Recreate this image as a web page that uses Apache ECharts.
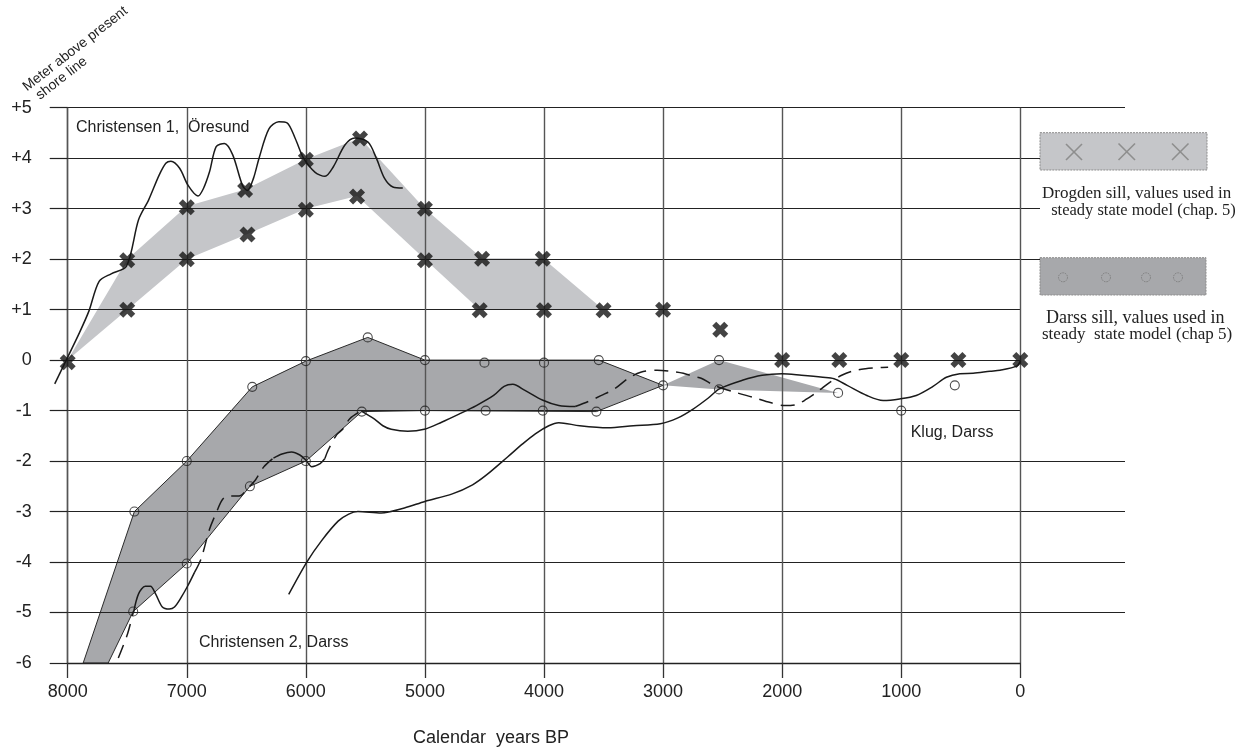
<!DOCTYPE html>
<html>
<head>
<meta charset="utf-8">
<script src="https://cdn.jsdelivr.net/npm/echarts@6/dist/echarts.min.js"></script>
<style>
  html, body { margin: 0; padding: 0; background: #fff; }
  #chart { width: 1256px; height: 751px; }
</style>
</head>
<body>
<div id="chart"></div>
<script>
// Axis ranges (calendar years BP on x, metres relative to present shore line on y)
const yearRange = [0, 8000];
const levelRange = [-6, 5];

// Drogden sill: envelope of values used in the steady state model
const drogdenUpper = [[8000, 0], [7500, 2], [7000, 3.05], [6510, 3.38], [6000, 3.98], [5545, 4.4], [5000, 3], [4520, 2.02], [4010, 2.02], [3500, 1]];
const drogdenLower = [[3500, 1], [4000, 1], [4540, 1], [5000, 2], [5570, 3.25], [6000, 3], [6490, 2.5], [7000, 2], [7500, 1], [8000, 0]];
const drogdenMarks = [[8000, -0.04], [7500, 1.98], [7500, 1], [7000, 3.03], [7000, 2], [6510, 3.37], [6490, 2.49], [6000, 3.97], [6000, 2.98], [5545, 4.39], [5570, 3.24], [5000, 3], [5000, 1.98], [4520, 2.01], [4540, 0.99], [4010, 2.01], [4000, 0.99], [3500, 0.99], [3000, 1], [2520, 0.6], [2000, 0], [1520, 0], [1000, 0], [520, 0], [0, 0]];

// Darss sill: envelope of values used in the steady state model
const darssUpper = [[7870, -6], [7440, -3], [7000, -2], [6450, -0.53], [6000, -0.02], [5480, 0.45], [5000, 0], [3540, 0], [3000, -0.5]];
const darssLower = [[3000, -0.5], [3560, -1.02], [5000, -1], [5530, -1.02], [6000, -2], [6470, -2.5], [7000, -4.03], [7450, -4.98], [7660, -6]];
const darssTail = [[3000, -0.5], [2530, 0], [1530, -0.65], [2530, -0.58]];
const darssMarks = [[7440, -3], [7000, -2], [6450, -0.53], [6000, -0.02], [5480, 0.45], [5000, 0], [4500, -0.05], [4000, -0.05], [3540, 0], [3000, -0.5], [2530, 0],
  [7450, -4.98], [7000, -4.03], [6470, -2.5], [6000, -2], [5530, -1.02], [5000, -1], [4490, -1], [4010, -1], [3560, -1.02], [2530, -0.58], [1530, -0.65], [1000, -1], [550, -0.5]];

// Christensen 1, Öresund (the first stretch starts just before 8000 BP)
const oresundStart = [[8109, -0.47], [8000, 0.06]];
const oresund = [[8000, 0.06], [7900, 0.55], [7822, 0.97], [7736, 1.56], [7635, 1.71], [7506, 1.86], [7405, 2.78], [7319, 3.18], [7233, 3.66], [7176, 3.9], [7133, 3.94], [7060, 3.8], [6989, 3.46], [6906, 3.25], [6860, 3.4], [6809, 3.73], [6753, 4.23], [6684, 4.29], [6615, 4.07], [6532, 3.46], [6490, 3.36], [6440, 3.6], [6393, 4.0], [6310, 4.58], [6227, 4.72], [6158, 4.7], [6089, 4.39], [6019, 4.0], [5922, 3.72], [5839, 3.64], [5769, 3.83], [5672, 4.26], [5589, 4.4], [5478, 4.32], [5408, 4.0], [5339, 3.6], [5269, 3.43], [5186, 3.41]];

// Christensen 2, Darss (alternating dashed and solid stretches)
const darss2DashA = [[7575, -5.9], [7497, -5.42], [7448, -4.98]];
const darss2SolidB = [[7448, -5.01], [7405, -4.63], [7348, -4.48], [7305, -4.48], [7262, -4.63], [7205, -4.89], [7147, -4.93], [7103, -4.89], [7047, -4.7], [6989, -4.46], [6934, -4.2]];
const darss2DashC = [[6934, -4.2], [6879, -3.93], [6809, -3.35], [6741, -2.96], [6700, -2.76], [6645, -2.69], [6561, -2.69], [6480, -2.52], [6425, -2.38], [6355, -2.12], [6272, -1.94]];
const darss2SolidD = [[6272, -1.94], [6200, -1.86], [6120, -1.82], [6050, -1.88], [6000, -1.98], [5950, -2.11], [5880, -2.05], [5840, -1.95]];
const darss2DashE = [[5840, -1.95], [5812, -1.78], [5742, -1.48], [5687, -1.36], [5631, -1.16], [5533, -1.0]];
const darss2SolidF = [[5533, -1.01], [5423, -1.17], [5353, -1.3], [5283, -1.37], [5144, -1.41], [5006, -1.37], [4860, -1.23], [4714, -1.07], [4568, -0.9], [4423, -0.7], [4335, -0.52], [4262, -0.48], [4160, -0.6], [4014, -0.79], [3876, -0.9], [3738, -0.92]];
const darss2DashG = [[3738, -0.92], [3628, -0.82], [3518, -0.7], [3408, -0.57], [3298, -0.37], [3188, -0.24], [3051, -0.2], [2940, -0.22], [2830, -0.26], [2748, -0.32], [2680, -0.36], [2570, -0.5], [2390, -0.64], [2240, -0.74], [2100, -0.84], [1980, -0.9], [1880, -0.88], [1800, -0.78], [1700, -0.62], [1600, -0.44], [1500, -0.3], [1400, -0.21], [1300, -0.17], [1200, -0.15], [1110, -0.14]];

// Klug, Darss
const klug = [[6144, -4.64], [5992, -4.0], [5869, -3.58], [5729, -3.19], [5640, -3.05], [5563, -3.0], [5367, -3.03], [5172, -2.93], [5000, -2.8], [4770, -2.65], [4600, -2.47], [4480, -2.27], [4306, -1.92], [4180, -1.66], [4073, -1.46], [3960, -1.3], [3876, -1.24], [3700, -1.3], [3464, -1.34], [3250, -1.3], [3023, -1.26], [2880, -1.15], [2748, -0.97], [2620, -0.75], [2527, -0.57], [2334, -0.4], [2168, -0.3], [2002, -0.27], [1838, -0.3], [1659, -0.34], [1564, -0.37], [1454, -0.5], [1289, -0.7], [1152, -0.8], [1014, -0.77], [874, -0.7], [733, -0.52], [621, -0.34], [508, -0.27], [396, -0.26], [255, -0.22], [171, -0.2], [30, -0.12], [0, -0.02]];

// Horizontal rules that run on past the 0 year line
const ruleLevelsLong = [-5, -4, -3, -2, 5];
const ruleLevelsMid = [2, 3, 4];

const SANS = '"Liberation Sans", Arial, sans-serif';
const SERIF = '"Liberation Serif", "Times New Roman", serif';
const INK = '#1a1a1a';
const CROSS = 'path://M4,0 L8,4 L12,0 L16,4 L12,8 L16,12 L12,16 L8,12 L4,16 L0,12 L4,8 L0,4 Z';

function ruleColors(levels) {
  const out = [];
  for (let v = levelRange[0]; v <= levelRange[1]; v++) {
    out.push(levels.indexOf(v) >= 0 ? '#222' : 'rgba(0,0,0,0)');
  }
  return out;
}

function polygonSeries(points, fill, stroke) {
  return {
    type: 'custom', coordinateSystem: 'cartesian2d', xAxisIndex: 0, yAxisIndex: 0,
    z: 0, silent: true, clip: false, data: [[0, 0]],
    renderItem: function (params, api) {
      return {
        type: 'polygon',
        shape: { points: points.map(function (p) { return api.coord(p); }) },
        style: { fill: fill, stroke: stroke || null, lineWidth: stroke ? 1 : 0 }
      };
    }
  };
}

// a stretch of curve that begins outside the axis range
function outerStretch(points) {
  return {
    type: 'custom', coordinateSystem: 'cartesian2d', xAxisIndex: 0, yAxisIndex: 0,
    z: 3, silent: true, clip: false, data: [[0, 0]],
    renderItem: function (params, api) {
      return {
        type: 'polyline',
        shape: { points: points.map(function (p) { return api.coord(p); }) },
        style: { fill: null, stroke: INK, lineWidth: 1.5 }
      };
    }
  };
}

function curve(data, dashed) {
  return {
    type: 'line', data: data, xAxisIndex: 0, yAxisIndex: 0,
    smooth: 0.3, symbol: 'none', showSymbol: false, clip: false, z: 3, silent: true,
    lineStyle: { color: INK, width: 1.5, type: dashed ? [14, 8] : 'solid' }
  };
}

function hiddenX(gridIndex) {
  return { gridIndex: gridIndex, type: 'value', min: 0, max: 1, show: false };
}
function ruleY(gridIndex, levels) {
  return {
    gridIndex: gridIndex, type: 'value', min: levelRange[0], max: levelRange[1], interval: 1, z: 1,
    axisLine: { show: false, onZero: false }, axisTick: { show: false }, axisLabel: { show: false },
    splitLine: { show: true, lineStyle: { color: ruleColors(levels), width: 1.2 } }
  };
}

function label(text, x, y, font) {
  return { type: 'text', z: 10, style: { text: text, x: x, y: y, font: font, fill: '#222', align: 'left', verticalAlign: 'middle', textAlign: 'left', textVerticalAlign: 'middle' } };
}

const chart = echarts.init(document.getElementById('chart'), null, { renderer: 'canvas' });

const option = {
  animation: false,
  backgroundColor: '#fff',
  grid: [
    { left: 67.7, right: 235.7, top: 107.7, bottom: 88 },
    { left: 67.7, right: 131, top: 107.7, bottom: 88 },
    { left: 67.7, right: 216, top: 107.7, bottom: 88 }
  ],
  xAxis: [
    {
      gridIndex: 0, type: 'value', inverse: true, min: yearRange[0], max: yearRange[1], interval: 1000, z: 1,
      axisLine: { show: true, onZero: false, lineStyle: { color: '#222', width: 1.3 } },
      axisTick: { show: true, length: 15, lineStyle: { color: '#333', width: 1.3 } },
      axisLabel: { margin: 20, fontSize: 18, color: '#222', fontFamily: SANS, formatter: function (v) { return String(v); } },
      splitLine: { show: true, lineStyle: { color: '#555', width: 1.4 } }
    },
    hiddenX(1),
    hiddenX(2)
  ],
  yAxis: [
    {
      gridIndex: 0, type: 'value', min: levelRange[0], max: levelRange[1], interval: 1, z: 1,
      axisLine: { show: true, onZero: false, lineStyle: { color: '#555', width: 1.4 } },
      axisTick: { show: true, length: 18, lineStyle: { color: '#222', width: 1.2 } },
      axisLabel: {
        margin: 36, fontSize: 18, color: '#222', fontFamily: SANS,
        formatter: function (v) { return v > 0 ? '+' + v : String(v); }
      },
      splitLine: { show: true, lineStyle: { color: '#222', width: 1.2 } }
    },
    ruleY(1, ruleLevelsLong),
    ruleY(2, ruleLevelsMid)
  ],
  series: [
    polygonSeries(drogdenUpper.concat(drogdenLower), '#c5c6c9', null),
    polygonSeries(darssUpper.concat(darssLower), '#a7a8ab', '#2a2a2a'),
    polygonSeries(darssTail, '#a9aaad', null),
    outerStretch(oresundStart),
    curve(oresund, false),
    curve(darss2DashA, true),
    curve(darss2SolidB, false),
    curve(darss2DashC, true),
    curve(darss2SolidD, false),
    curve(darss2DashE, true),
    curve(darss2SolidF, false),
    curve(darss2DashG, true),
    curve(klug, false),
    {
      type: 'scatter', data: darssMarks, xAxisIndex: 0, yAxisIndex: 0, clip: false, z: 4, silent: true,
      symbol: 'circle', symbolSize: 9,
      itemStyle: { color: 'rgba(0,0,0,0)', borderColor: '#222', borderWidth: 1.1 }
    },
    {
      type: 'scatter', data: drogdenMarks, xAxisIndex: 0, yAxisIndex: 0, clip: false, z: 5, silent: true,
      symbol: CROSS, symbolSize: 16, itemStyle: { color: '#141414' }
    }
  ],
  graphic: [
    // axis titles
    { type: 'text', x: 29, y: 94, rotation: 38 * Math.PI / 180,
      style: { text: 'Meter above present', x: 0, y: 0, font: '14px ' + SANS, fill: '#222', align: 'left', verticalAlign: 'bottom', textAlign: 'left', textVerticalAlign: 'bottom' } },
    { type: 'text', x: 42, y: 102.5, rotation: 38 * Math.PI / 180,
      style: { text: 'shore line', x: 0, y: 0, font: '14px ' + SANS, fill: '#222', align: 'left', verticalAlign: 'bottom', textAlign: 'left', textVerticalAlign: 'bottom' } },
    label('Calendar  years BP', 413, 738.5, '18px ' + SANS),
    // curve names
    label('Christensen 1,  Öresund', 76, 127.5, '16px ' + SANS),
    label('Christensen 2, Darss', 199, 642.5, '16px ' + SANS),
    label('Klug, Darss', 910.7, 432.5, '16px ' + SANS),
    // key: Drogden sill
    { type: 'rect', shape: { x: 1040, y: 132.7, width: 167, height: 37.3 }, style: { fill: '#c5c6c9', stroke: '#8c8c8c', lineWidth: 1, lineDash: [2, 1] } },
    { type: 'line', shape: { x1: 1066, y1: 144, x2: 1082, y2: 160 }, style: { stroke: '#8e8e8e', lineWidth: 1.6 } },
    { type: 'line', shape: { x1: 1082, y1: 144, x2: 1066, y2: 160 }, style: { stroke: '#8e8e8e', lineWidth: 1.6 } },
    { type: 'line', shape: { x1: 1118.5, y1: 143.5, x2: 1135, y2: 160 }, style: { stroke: '#8e8e8e', lineWidth: 1.6 } },
    { type: 'line', shape: { x1: 1135, y1: 143.5, x2: 1118.5, y2: 160 }, style: { stroke: '#8e8e8e', lineWidth: 1.6 } },
    { type: 'line', shape: { x1: 1172, y1: 143.5, x2: 1188.5, y2: 160 }, style: { stroke: '#8e8e8e', lineWidth: 1.6 } },
    { type: 'line', shape: { x1: 1188.5, y1: 143.5, x2: 1172, y2: 160 }, style: { stroke: '#8e8e8e', lineWidth: 1.6 } },
    label('Drogden sill, values used in', 1042, 194, '17px ' + SERIF),
    label(' steady state model (chap. 5)', 1047, 211, '16.5px ' + SERIF),
    // key: Darss sill
    { type: 'rect', shape: { x: 1040, y: 257.7, width: 166, height: 37.3 }, style: { fill: '#a7a8ab', stroke: '#8c8c8c', lineWidth: 1, lineDash: [2, 1] } },
    { type: 'circle', shape: { cx: 1063, cy: 277.3, r: 4.5 }, style: { fill: 'none', stroke: '#7e7e7e', lineWidth: 1, lineDash: [1.5, 1] } },
    { type: 'circle', shape: { cx: 1106, cy: 277.3, r: 4.5 }, style: { fill: 'none', stroke: '#7e7e7e', lineWidth: 1, lineDash: [1.5, 1] } },
    { type: 'circle', shape: { cx: 1146, cy: 277.3, r: 4.5 }, style: { fill: 'none', stroke: '#7e7e7e', lineWidth: 1, lineDash: [1.5, 1] } },
    { type: 'circle', shape: { cx: 1178, cy: 277.3, r: 4.5 }, style: { fill: 'none', stroke: '#7e7e7e', lineWidth: 1, lineDash: [1.5, 1] } },
    label('Darss sill, values used in', 1046, 318, '18px ' + SERIF),
    label('steady  state model (chap 5)', 1042, 335, '17px ' + SERIF)
  ]
};

chart.setOption(option);
</script>
</body>
</html>
